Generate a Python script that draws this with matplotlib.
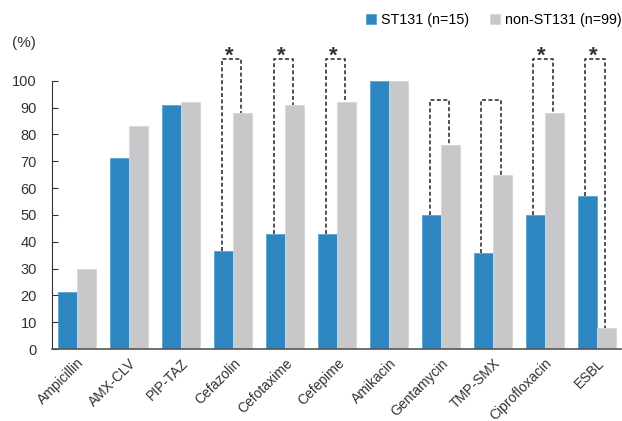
import numpy as np
import matplotlib
matplotlib.use("Agg")
from matplotlib import pyplot as plt

plt.rcParams['font.family'] = ['Liberation Sans', 'DejaVu Sans']

drugs = ["Ampicillin", "AMX-CLV", "PIP-TAZ", "Cefazolin", "Cefotaxime", "Cefepime",
         "Amikacin", "Gentamycin", "TMP-SMX", "Ciprofloxacin", "ESBL"]
st131 = [21.4, 71.4, 91.0, 36.4, 42.9, 42.9, 100, 50.0, 35.7, 50.0, 57.1]
non_st131 = [30, 83, 92, 88, 91, 92, 100, 76, 65, 88, 8]
# brackets: (index, significant)
brackets = [(3, True), (4, True), (5, True), (7, False), (8, False), (9, True), (10, True)]

blue = "#2e86c1"
grey = "#c8c8ca"

fig = plt.figure(figsize=(6.22, 4.21), dpi=100)
ax = fig.add_axes([0.084, 0.171, 0.914, 0.637])

x = np.arange(len(drugs))
w = 0.366
ax.bar(x - w / 2, st131, w, color=blue, edgecolor="#5aa3d6", linewidth=0.6, label="ST131 (n=15)")
ax.bar(x + w / 2, non_st131, w, color=grey, edgecolor="#d6d6d8", linewidth=0.6, label="non-ST131 (n=99)")

for i, sig in brackets:
    top = 108 if sig else 93
    xl = i - 0.22
    xr = i + 0.15
    ax.plot([xl, xl, xr, xr], [st131[i], top, top, non_st131[i]], color="#222222",
            lw=1.1, ls=(0, (2.6, 1.6)), clip_on=False, zorder=3)
    if sig:
        ax.text((xl + xr) / 2 - 0.04, top - 0.8, "*", ha="center", va="baseline",
                fontsize=16, fontweight="bold", color="#333333", clip_on=False)

ax.set_xlim(-0.48, 10.46)
ax.set_ylim(0, 100)
ax.set_yticks(range(0, 101, 10))
ax.set_xticks(x)
ax.set_xticklabels(drugs, rotation=45, ha="right", va="top", rotation_mode="anchor")
ax.tick_params(axis="x", length=0, pad=5, labelsize=10, colors="#333333")
ax.tick_params(axis="y", direction="in", length=4, width=0.8, labelsize=10.5, pad=11, colors="#333333")
ax.spines["top"].set_visible(False)
ax.spines["right"].set_visible(False)
ax.spines["left"].set_color("#333333")
ax.spines["bottom"].set_color("#555555")
ax.spines["bottom"].set_linewidth(1.2)

fig.text(0.02, 0.897, "(%)", fontsize=11, color="#333333", va="center")

ax.legend(loc="center right", bbox_to_anchor=(1.011, 1.226), ncol=2, frameon=False,
          fontsize=10.3, handlelength=0.7, handleheight=0.7, handletextpad=0.3,
          columnspacing=1.5, borderaxespad=0)

fig.savefig("out.png", dpi=100)
